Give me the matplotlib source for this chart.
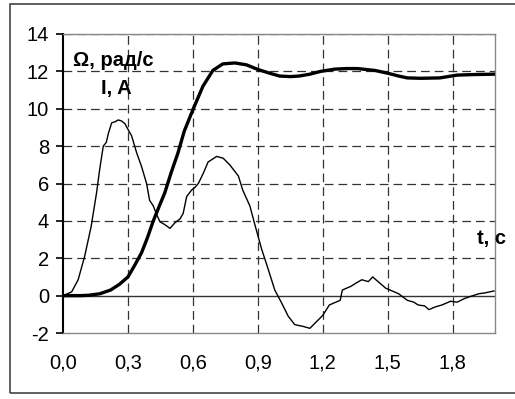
import matplotlib
matplotlib.use('Agg')
import matplotlib.pyplot as plt
from matplotlib.patches import Rectangle

plt.rcParams['font.family'] = ['Liberation Sans', 'DejaVu Sans']
plt.rcParams['font.size'] = 14.5
plt.rcParams['axes.unicode_minus'] = False

# angular speed Omega (rad/s), thick line
t_omega = [0.0, 0.08, 0.12, 0.17, 0.22, 0.26, 0.3, 0.33, 0.363, 0.39, 0.417, 0.445,
           0.47, 0.5, 0.53, 0.56, 0.6, 0.646, 0.692, 0.738, 0.794, 0.847, 0.9,
           0.955, 1.0, 1.05, 1.09, 1.14, 1.19, 1.255, 1.31, 1.36, 1.44, 1.5,
           1.55, 1.59, 1.65, 1.74, 1.82, 1.9, 1.99]
omega = [0.0, 0.0, 0.02, 0.1, 0.3, 0.6, 1.0, 1.6, 2.3, 3.1, 4.0, 4.8,
         5.5, 6.6, 7.6, 8.8, 9.95, 11.2, 12.05, 12.4, 12.45, 12.35, 12.1,
         11.9, 11.75, 11.72, 11.75, 11.85, 12.0, 12.12, 12.15, 12.15, 12.05, 11.9,
         11.75, 11.65, 11.63, 11.65, 11.8, 11.83, 11.85]

# current I (A), thin line
t_cur = [0.0, 0.04, 0.07, 0.1, 0.13, 0.155, 0.17, 0.186, 0.2, 0.21, 0.225, 0.24,
         0.255, 0.27, 0.286, 0.3, 0.317, 0.34, 0.363, 0.386, 0.4, 0.417, 0.432,
         0.448, 0.47, 0.494, 0.517, 0.54, 0.555, 0.571, 0.594, 0.61, 0.625,
         0.648, 0.67, 0.69, 0.71, 0.725, 0.74, 0.77, 0.81, 0.83, 0.863, 0.886,
         0.917, 0.948, 0.978, 1.01, 1.04, 1.07, 1.09, 1.11, 1.125, 1.14, 1.17,
         1.2, 1.23, 1.26, 1.28, 1.29, 1.31, 1.33, 1.35, 1.38, 1.41, 1.43, 1.455,
         1.49, 1.52, 1.55, 1.59, 1.62, 1.64, 1.67, 1.69, 1.72, 1.75, 1.79, 1.82,
         1.855, 1.88, 1.92, 1.95, 1.99]
current = [0.0, 0.2, 0.85, 2.1, 3.7, 5.5, 6.8, 8.0, 8.2, 8.7, 9.25, 9.3,
           9.4, 9.35, 9.2, 8.9, 8.55, 7.65, 6.9, 6.0, 5.1, 4.8, 4.35,
           3.95, 3.8, 3.6, 3.9, 4.1, 4.4, 5.3, 5.65, 5.8, 6.0,
           6.55, 7.15, 7.3, 7.45, 7.4, 7.35, 7.0, 6.4, 5.65, 4.8, 3.8,
           2.5, 1.4, 0.3, -0.4, -1.1, -1.55, -1.6, -1.65, -1.7, -1.75, -1.4,
           -1.05, -0.5, -0.35, -0.25, 0.3, 0.4, 0.5, 0.65, 0.85, 0.75, 1.0, 0.75,
           0.4, 0.25, 0.1, -0.25, -0.35, -0.5, -0.55, -0.75, -0.6, -0.5, -0.3, -0.35,
           -0.15, -0.05, 0.1, 0.15, 0.25]

x_ticks = [0.0, 0.3, 0.6, 0.9, 1.2, 1.5, 1.8]
x_labels = ['0,0', '0,3', '0,6', '0,9', '1,2', '1,5', '1,8']
y_ticks = [-2, 0, 2, 4, 6, 8, 10, 12, 14]

fig = plt.figure(figsize=(5.15, 3.99), dpi=100)
ax = fig.add_axes([0.1223, 0.1654, 0.8389, 0.7494])

# outer frame
fig.patches.append(Rectangle((10 / 515, 6 / 399), 1.2, 389 / 399, transform=fig.transFigure,
                             fill=False, edgecolor='#444444', linewidth=1.2))

for t in x_ticks[1:]:
    ax.axvline(t, color='#333333', linewidth=0.9, dashes=(7, 4), zorder=1)
for y in y_ticks[1:]:
    if y == 0:
        ax.axhline(0, color='#333333', linewidth=1.0, zorder=1)
    else:
        ax.axhline(y, color='#333333', linewidth=0.9, dashes=(7, 4), zorder=1)

ax.plot(t_omega, omega, color='black', linewidth=2.4, zorder=3)
ax.plot(t_cur, current, color='black', linewidth=1.0, zorder=3)

ax.set_xlim(0, 1.995)
ax.set_ylim(-2, 14)
ax.set_xticks(x_ticks)
ax.set_xticklabels(x_labels)
ax.set_yticks(y_ticks)
ax.tick_params(axis='x', length=0, pad=15)
ax.tick_params(axis='y', length=5, width=1.2, pad=5)

for s in ['top', 'right', 'bottom']:
    ax.spines[s].set_color('#888888')
    ax.spines[s].set_linewidth(1.0)
ax.spines['left'].set_color('black')
ax.spines['left'].set_linewidth(1.5)

ax.text(0.233, 12.6, 'Ω, рад/с', fontweight='bold', ha='center', va='center')
ax.text(0.245, 11.1, 'I, A', fontweight='bold', ha='center', va='center')
ax.text(1.98, 3.05, 't, c', fontweight='bold', ha='center', va='center', clip_on=False)

fig.savefig('out.png', dpi=100)
